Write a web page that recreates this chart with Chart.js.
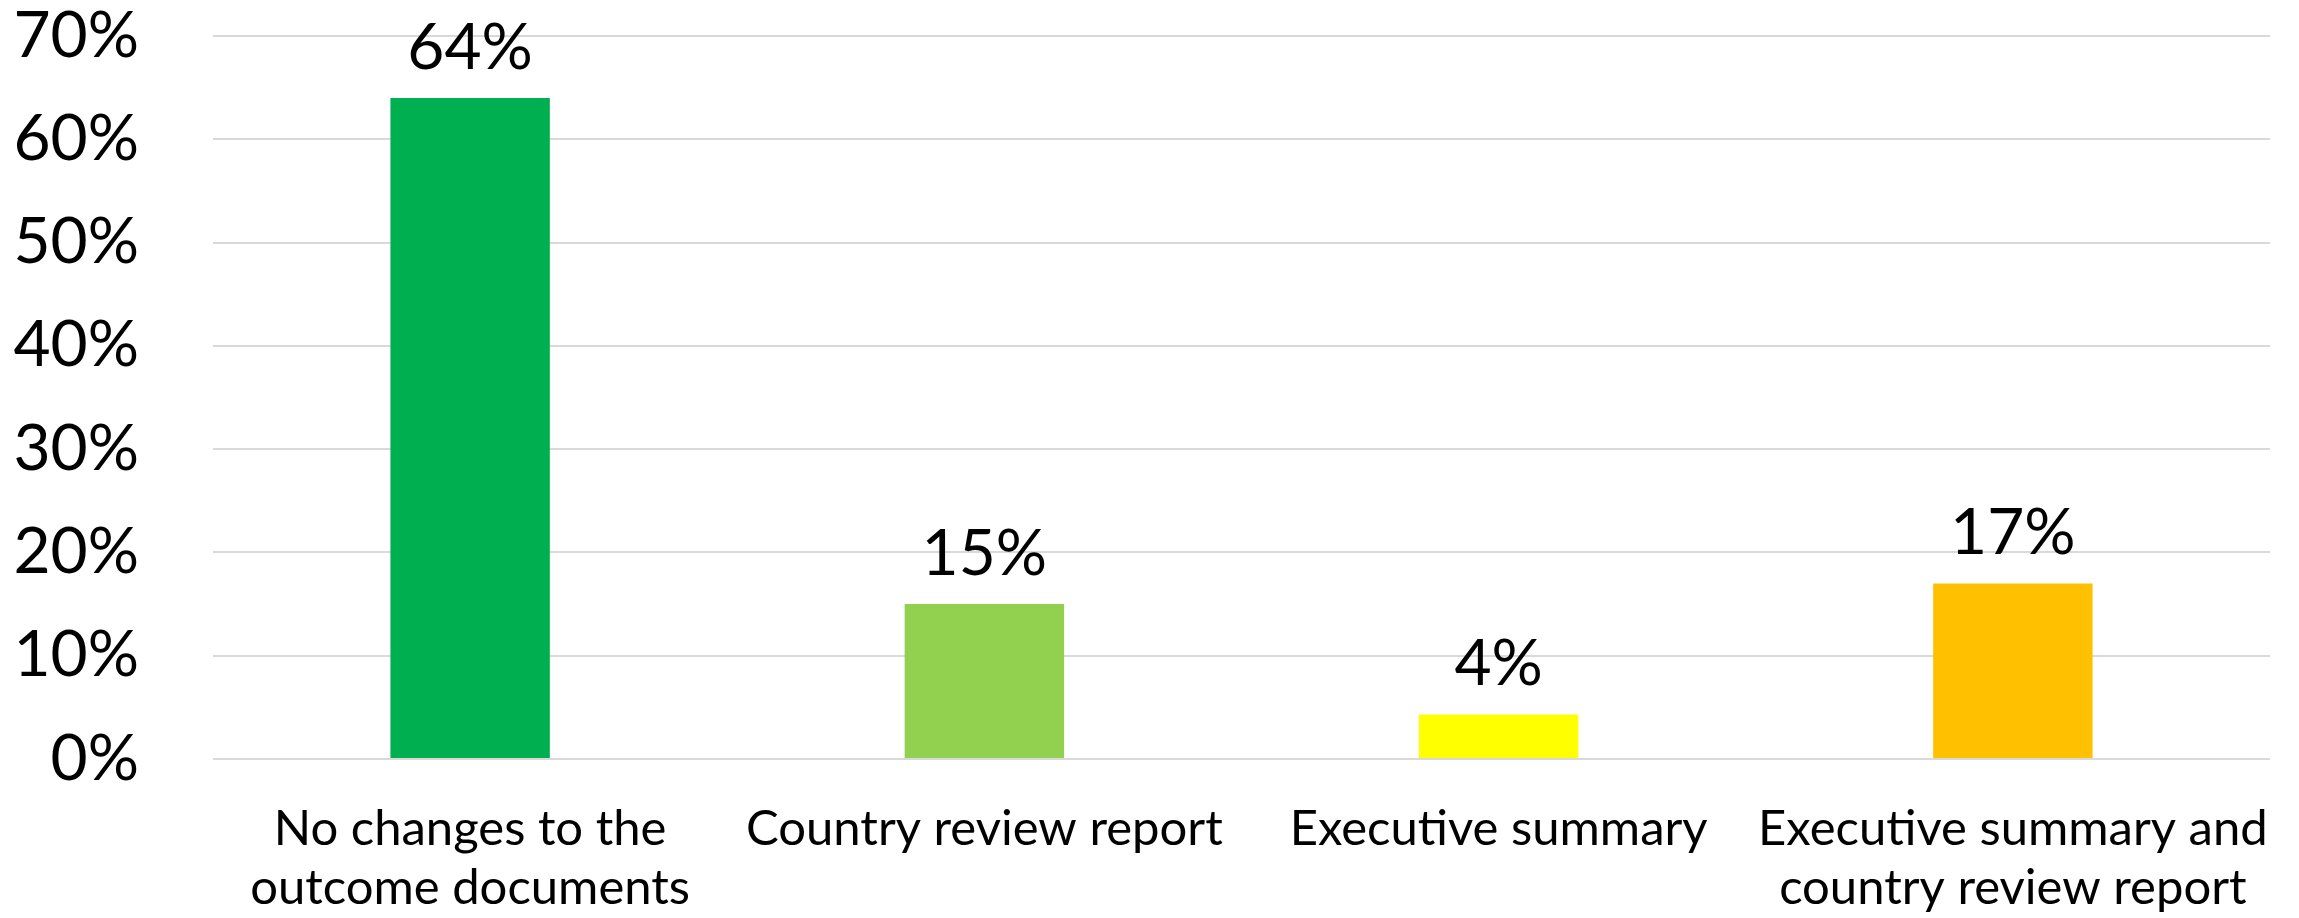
<!DOCTYPE html>
<html>
<head>
<meta charset="utf-8">
<script src="https://cdn.jsdelivr.net/npm/chart.js@4.4.0/dist/chart.umd.min.js"></script>
<style>
  html, body { margin: 0; padding: 0; background: #ffffff; }
  #wrap { width: 2299px; height: 918px; }
</style>
</head>
<body>
<div id="wrap"><canvas id="myChart" width="2299" height="918"></canvas></div>
<script>
// Datos del gráfico
const categories = [
    ['No changes to the', 'outcome documents'],
    'Country review report',
    'Executive summary',
    ['Executive summary and', 'country review report']
];
const values = [64, 15, 4.3, 17];
const barColors = ['#00B050', '#92D050', '#FFFF00', '#FFC000'];
const yTicks = [0, 10, 20, 30, 40, 50, 60, 70];

const FONT = 'Lato, "Open Sans", sans-serif';

// Etiquetas de valor encima de cada barra
const valueLabels = {
    id: 'valueLabels',
    afterDatasetsDraw(chart) {
        const ctx = chart.ctx;
        const meta = chart.getDatasetMeta(0);
        ctx.save();
        ctx.font = '64px ' + FONT;
        ctx.fillStyle = '#000000';
        ctx.textAlign = 'center';
        ctx.textBaseline = 'bottom';
        meta.data.forEach((bar, i) => {
            ctx.fillText(Math.round(values[i]) + '%', bar.x, bar.y - 18);
        });
        ctx.restore();
    }
};

var ctx = document.getElementById('myChart').getContext('2d');
var myChart = new Chart(ctx, {
    type: 'bar',
    data: {
        labels: categories,
        datasets: [{
            data: values,
            backgroundColor: barColors,
            borderWidth: 0,
            barPercentage: 0.31,
            categoryPercentage: 1
        }]
    },
    options: {
        responsive: false,
        animation: false,
        layout: {
            padding: { top: 36, right: 29, left: 0, bottom: 0 }
        },
        plugins: {
            legend: { display: false },
            tooltip: { enabled: false }
        },
        scales: {
            x: {
                grid: { display: false },
                border: { display: false },
                afterFit(scale) {
                    scale.paddingLeft = 0;
                    scale.paddingRight = 0;
                    scale.height = 159;
                },
                ticks: {
                    color: '#000000',
                    font: { family: FONT, size: 49, lineHeight: 1.2 },
                    padding: 33,
                    maxRotation: 0,
                    autoSkip: false
                }
            },
            y: {
                min: 0,
                max: 70,
                afterBuildTicks(axis) {
                    axis.ticks = yTicks.map(v => ({ value: v }));
                },
                afterFit(scale) {
                    scale.paddingTop = 0;
                    scale.paddingBottom = 0;
                    scale.width = 213;
                },
                grid: {
                    color: '#D9D9D9',
                    lineWidth: 2,
                    drawTicks: false
                },
                border: { display: false },
                ticks: {
                    color: '#000000',
                    font: { family: FONT, size: 64 },
                    padding: 74,
                    callback: v => v + '%'
                }
            }
        }
    },
    plugins: [valueLabels]
});
</script>
</body>
</html>
